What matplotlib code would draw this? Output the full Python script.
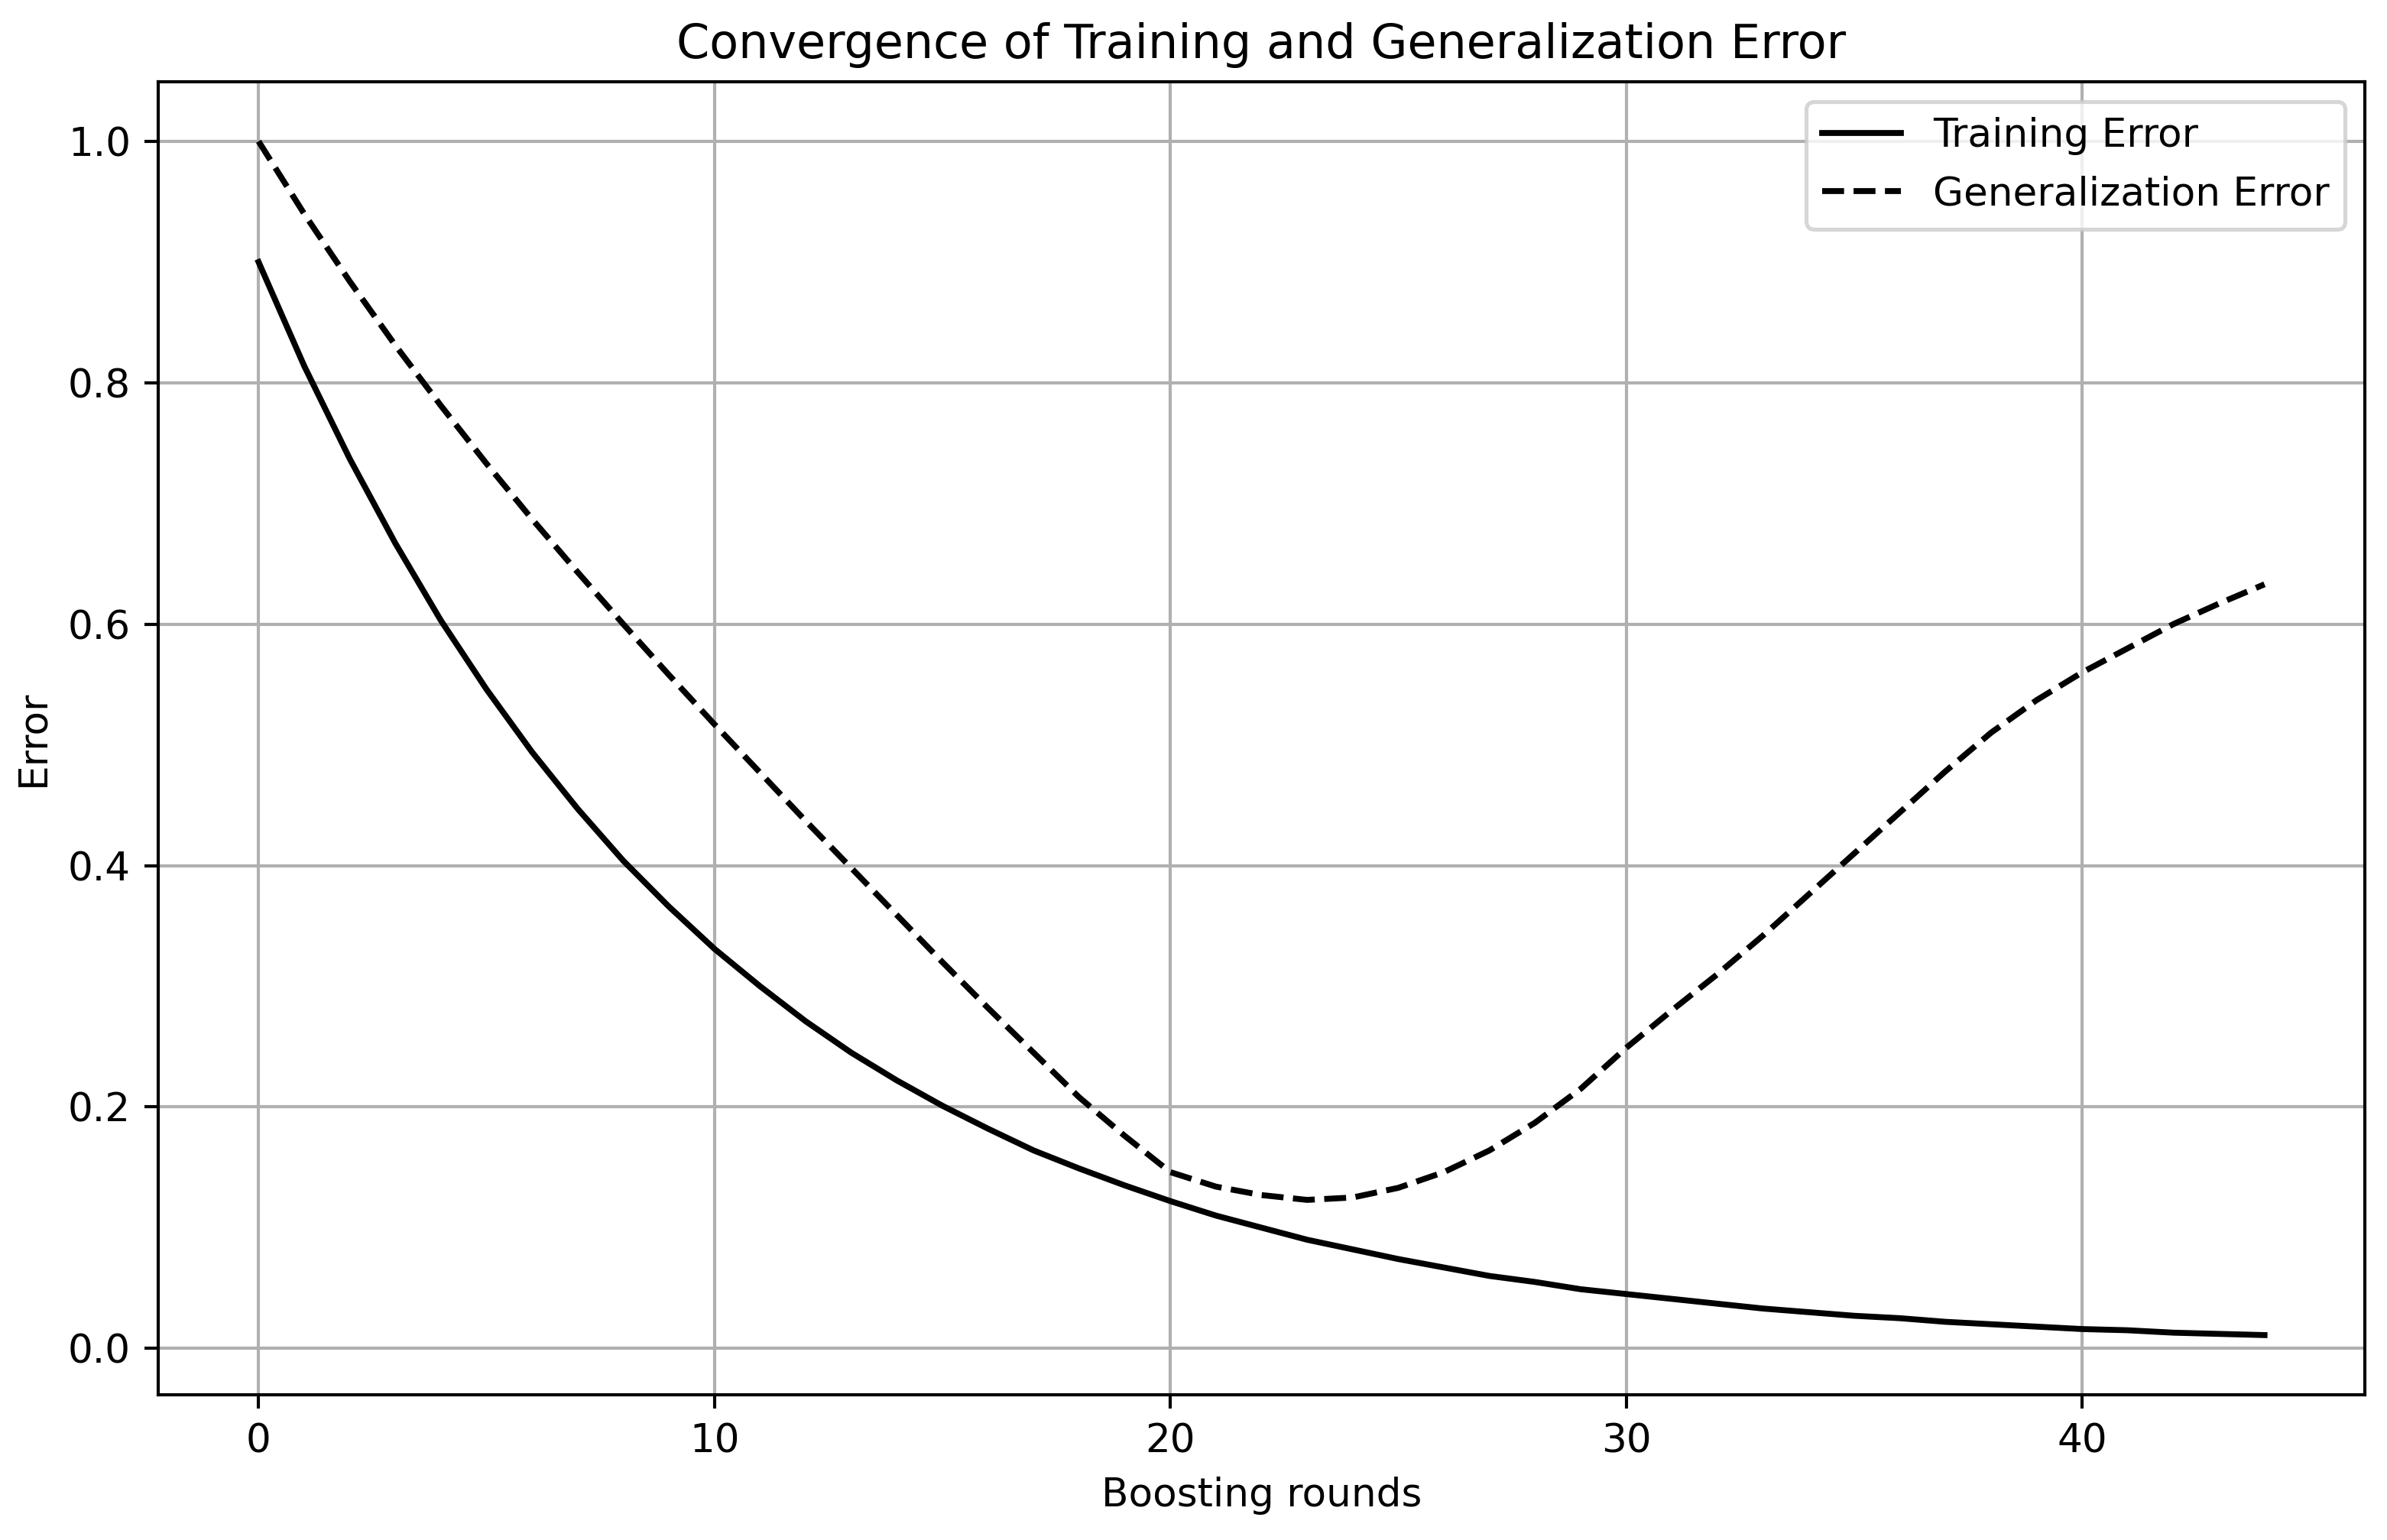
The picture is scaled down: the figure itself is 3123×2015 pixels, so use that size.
import numpy as np
import matplotlib
matplotlib.use('Agg')
import matplotlib.pyplot as plt

# boosting rounds 0..44
rounds = list(range(45))

# training error
train_err = [0.900, 0.814, 0.737, 0.667, 0.603, 0.546, 0.494, 0.447, 0.404, 0.366,
             0.331, 0.300, 0.271, 0.245, 0.222, 0.201, 0.182, 0.164, 0.149, 0.135,
             0.122, 0.110, 0.100, 0.090, 0.082, 0.074, 0.067, 0.060, 0.055, 0.049,
             0.045, 0.041, 0.037, 0.033, 0.030, 0.027, 0.025, 0.022, 0.020, 0.018,
             0.016, 0.015, 0.013, 0.012, 0.011]

# generalization error
gen_err = [1.000, 0.940, 0.884, 0.831, 0.781, 0.733, 0.687, 0.643, 0.600, 0.558,
           0.517, 0.477, 0.437, 0.398, 0.359, 0.320, 0.282, 0.245, 0.208, 0.176,
           0.146, 0.134, 0.127, 0.123, 0.125, 0.133, 0.146, 0.164, 0.187, 0.215,
           0.249, 0.280, 0.310, 0.342, 0.376, 0.410, 0.444, 0.478, 0.510, 0.537,
           0.560, 0.580, 0.600, 0.617, 0.633]

DPI = 372
fig, ax = plt.subplots(figsize=(3123 / DPI, 2015 / DPI), dpi=DPI)
fig.subplots_adjust(left=0.0663, right=0.9907, top=0.947, bottom=0.0943)

ax.plot(np.array(rounds), np.array(train_err), 'k-', label='Training Error')
ax.plot(np.array(rounds), np.array(gen_err), 'k--', label='Generalization Error')
ax.set_title('Convergence of Training and Generalization Error')
ax.set_xlabel('Boosting rounds')
ax.set_ylabel('Error')
ax.legend()
ax.grid(True)

fig.savefig('out.png', dpi=DPI)
